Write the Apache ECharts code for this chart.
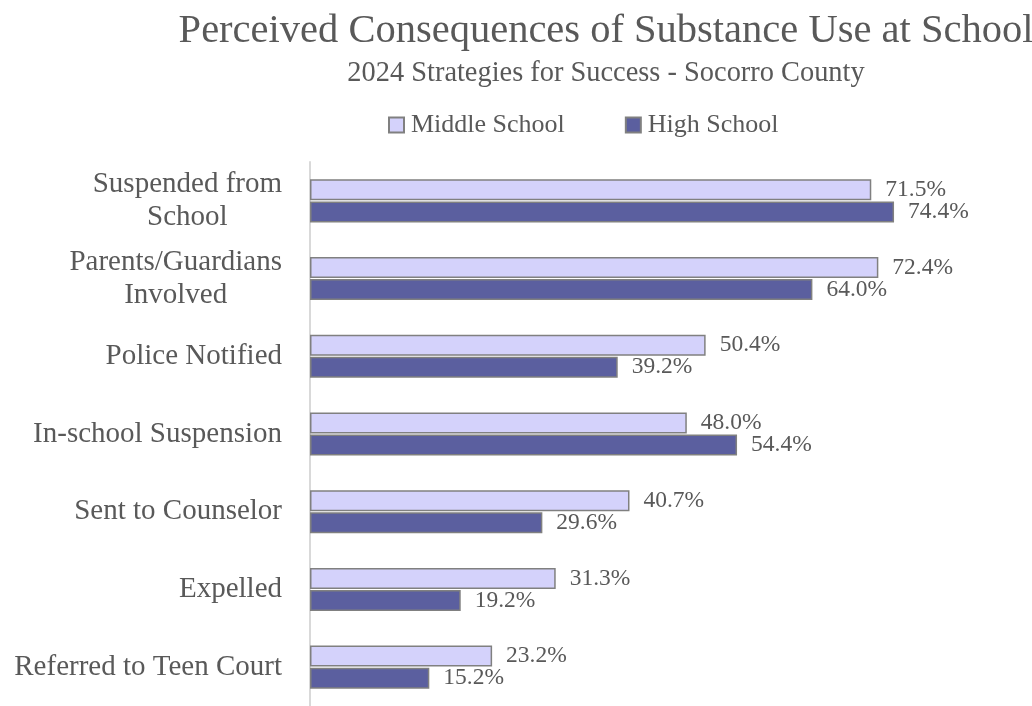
<!DOCTYPE html>
<html>
<head>
<meta charset="utf-8">
<script src="https://cdn.jsdelivr.net/npm/echarts@6/dist/echarts.min.js"></script>
<style>
  html, body { margin: 0; padding: 0; background: #ffffff; }
  #chart { width: 1032px; height: 706px; }
</style>
</head>
<body>
<div id="chart"></div>
<script>
// Consequence categories, top to bottom
const categories = [
  'Suspended from\nSchool',
  'Parents/Guardians\nInvolved',
  'Police Notified',
  'In-school Suspension',
  'Sent to Counselor',
  'Expelled',
  'Referred to Teen Court'
];
const seriesNames = ['Middle School', 'High School'];
// Percent of students reporting each consequence
const middleSchool = [71.5, 72.4, 50.4, 48.0, 40.7, 31.3, 23.2];
const highSchool = [74.4, 64.0, 39.2, 54.4, 29.6, 19.2, 15.2];

const FONT = '"Liberation Serif", serif';
const TEXT = '#595959';

const chart = echarts.init(document.getElementById('chart'), null, { renderer: 'canvas' });

function barSeries(name, data, color) {
  return {
    name: name,
    type: 'bar',
    data: data,
    barWidth: 21,
    barGap: '5%',
    itemStyle: { color: color, borderColor: '#808080', borderWidth: 1.5 },
    label: {
      show: true,
      position: 'right',
      distance: 14,
      fontFamily: FONT,
      fontSize: 23.5,
      color: TEXT,
      formatter: p => p.value.toFixed(1) + '%'
    },
    animation: false
  };
}

chart.setOption({
  backgroundColor: '#ffffff',
  animation: false,
  title: [
    {
      text: 'Perceived Consequences of Substance Use at School',
      left: 601, top: 6, textAlign: 'center',
      textStyle: { fontFamily: FONT, fontWeight: 'normal', fontSize: 40.5, color: TEXT }
    },
    {
      text: '2024 Strategies for Success - Socorro County',
      left: 601, top: 55, textAlign: 'center',
      textStyle: { fontFamily: FONT, fontWeight: 'normal', fontSize: 28.4, color: TEXT }
    }
  ],
  legend: {
    data: seriesNames,
    left: 388, top: 112,
    padding: 0,
    icon: 'rect',
    itemWidth: 15, itemHeight: 15,
    itemGap: 60,
    textStyle: { fontFamily: FONT, fontSize: 26, color: TEXT, padding: [0, 0, 0, 2] }
  },
  grid: { left: 310, top: 162, width: 628, height: 553, containLabel: false },
  xAxis: {
    type: 'value', min: 0, max: 80,
    show: false
  },
  yAxis: {
    type: 'category',
    data: categories,
    inverse: true,
    axisLine: { show: true, lineStyle: { color: '#d9d9d9', width: 2 } },
    axisTick: { show: false },
    axisLabel: {
      margin: 28,
      fontFamily: FONT, fontSize: 29, color: TEXT, lineHeight: 33,
      formatter: v => v.split('\n').map(s => '{c|' + s + '}').join('\n'),
      rich: { c: { align: 'center', fontFamily: FONT, fontSize: 29, color: TEXT, lineHeight: 33 } }
    },
    splitLine: { show: false }
  },
  series: [
    barSeries(seriesNames[0], middleSchool, '#D4D2FB'),
    barSeries(seriesNames[1], highSchool, '#5B5F9F')
  ]
});
</script>
</body>
</html>
